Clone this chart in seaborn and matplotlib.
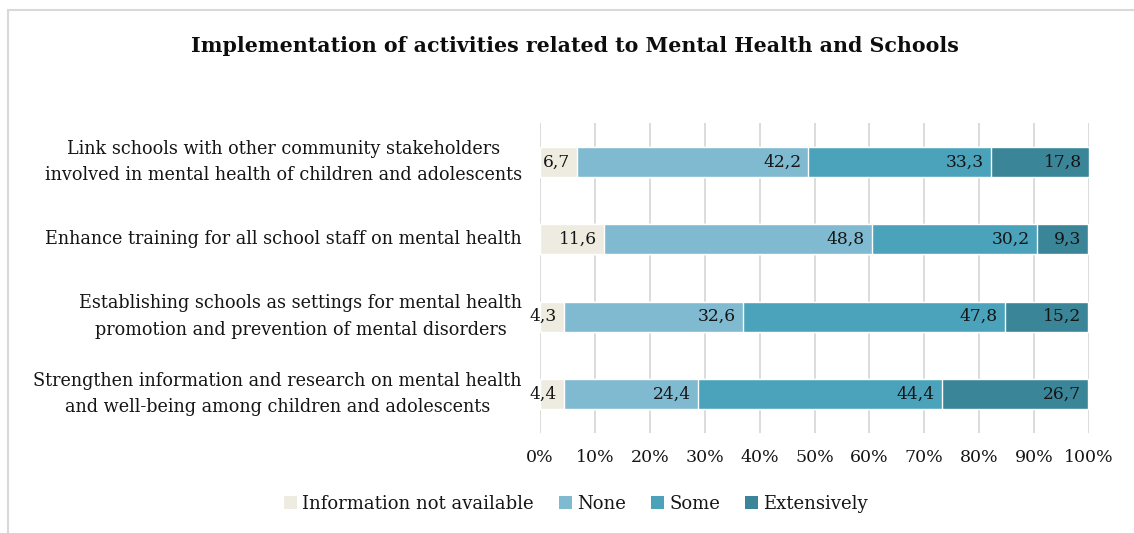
import matplotlib
matplotlib.use("Agg")
import matplotlib.pyplot as plt
from matplotlib.patches import Rectangle, Patch
import numpy as np
import pandas as pd
import seaborn as sns

# Activities (top to bottom) and share of countries per implementation level (%)
activities = [
    "Link schools with other community stakeholders\ninvolved in mental health of children and adolescents",
    "Enhance training for all school staff on mental health",
    "Establishing schools as settings for mental health\npromotion and prevention of mental disorders",
    "Strengthen information and research on mental health\nand well-being among children and adolescents",
]
levels = ["Information not available", "None", "Some", "Extensively"]
not_available = [6.7, 11.6, 4.3, 4.4]
none = [42.2, 48.8, 32.6, 24.4]
some = [33.3, 30.2, 47.8, 44.4]
extensively = [17.8, 9.3, 15.2, 26.7]
tick_values = [0, 10, 20, 30, 40, 50, 60, 70, 80, 90, 100]

colors = ["#EEECE1", "#7FBAD0", "#4AA3BA", "#3A8698"]
text_color = "#151515"

sns.set_theme(style="white")
plt.rcParams["font.family"] = ["DejaVu Serif"]

values = np.array([not_available, none, some, extensively])
cum = np.cumsum(values, axis=0)

W, H = 1134, 533
fig = plt.figure(figsize=(W / 100, H / 100), dpi=100)
ax = fig.add_axes([540 / W, 1 - 432.6 / H, (1089 - 540) / W, (432.6 - 123.4) / H])

# Stacked bars: draw cumulative totals from the widest to the narrowest
for i in range(len(levels) - 1, -1, -1):
    df = pd.DataFrame({"activity": activities, "end": cum[i]})
    sns.barplot(data=df, x="end", y="activity", order=activities, color=colors[i],
                width=0.39, saturation=1, ax=ax, zorder=3)

# Value labels at the inner end of each segment
for i in range(len(levels)):
    for j in range(len(activities)):
        ax.text(cum[i][j] - 1.3, j, f"{values[i][j]:.1f}".replace(".", ","),
                ha="right", va="center", fontsize=12.3, color=text_color, zorder=5)

ax.set_xlim(0, 100)
ax.set_ylim(3.5, -0.5)
ax.set_xticks(tick_values)
ax.set_xticklabels([f"{v}%" for v in tick_values], fontsize=12.5, color=text_color)
ax.set_xlabel("")
ax.set_ylabel("")
ax.set_yticks(range(len(activities)))
ax.set_yticklabels(activities, fontsize=12.7, multialignment="center",
                   linespacing=1.62, color=text_color, va="center")
ax.tick_params(axis="y", length=0, pad=13)
ax.tick_params(axis="x", length=0, pad=12)
ax.grid(axis="x", color="#D9D9D9", linewidth=1.3, zorder=0)
ax.set_axisbelow(True)
for s in ax.spines.values():
    s.set_visible(False)

fig.text(574.5 / W, 1 - 46 / H, "Implementation of activities related to Mental Health and Schools",
         ha="center", va="center", fontsize=14.8, fontweight="bold", color="#0d0d0d")

handles = [Patch(facecolor=c, edgecolor="none") for c in colors]
fig.legend(handles, levels, loc="center", bbox_to_anchor=(576 / W, 1 - 504 / H), ncol=4,
           frameon=False, fontsize=13, handlelength=0.7, handleheight=0.7,
           handletextpad=0.3, columnspacing=1.4, labelcolor=text_color)

# Light chart-area frame
fig.patches.append(Rectangle((8 / W, -0.2), 2, 1.2 - 10 / H, transform=fig.transFigure,
                             fill=False, edgecolor="#D9D9D9", linewidth=1.5))

fig.savefig("out.png", dpi=100)
